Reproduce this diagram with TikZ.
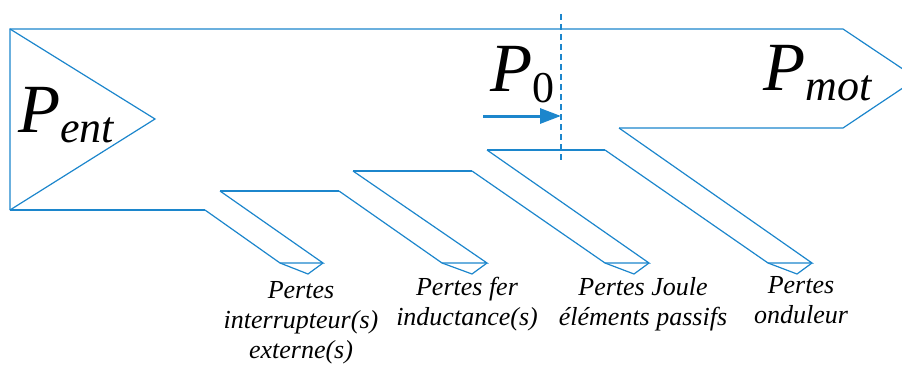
\documentclass[tikz,border=0pt]{standalone}
\usepackage{fontspec}
\setmainfont{Liberation Serif}
\usetikzlibrary{positioning,arrows.meta}
\definecolor{flowblue}{RGB}{28,134,204}

\begin{document}
\begin{tikzpicture}[x=1pt, y=1pt,
    flow/.style={draw=flowblue, line width=1.2pt},
    power/.style={inner sep=0pt, anchor=base west, font=\fontsize{69}{69}\selectfont\itshape},
    loss/.style={inner sep=0pt, anchor=base, align=center, font=\fontsize{26}{30}\selectfont\itshape}]
    \useasboundingbox (0,0) rectangle (902,365);
    \clip (0,0) rectangle (902,365);

    % main flow
    \draw[flow] (10,155) -- (10,336) -- (843,336) -- (917,286.5) -- (843,237) -- (619,237);
    \draw[flow] (10,336) -- (155,246) -- (10,155);
    \draw[flow] (10,155) -- (205,155);
    \draw[flow] (220,174) -- (339,174);
    \draw[flow] (353,194) -- (472,194);
    \draw[flow] (487,215) -- (605,215);

    % loss branches
    \draw[flow] (205,155) -- (280,102) -- (323,102) -- (220,174);
    \draw[flow] (280,102) -- (308,91) -- (323,102);
    \draw[flow] (339,174) -- (442,102) -- (487,102) -- (353,194);
    \draw[flow] (442,102) -- (472,91) -- (487,102);
    \draw[flow] (472,194) -- (605,102) -- (649,102) -- (487,215);
    \draw[flow] (605,102) -- (634,91) -- (649,102);
    \draw[flow] (605,215) -- (768,102) -- (812,102) -- (619,237);
    \draw[flow] (768,102) -- (797,91) -- (812,102);

    % P0 cut
    \coordinate (cuttop) at (561,351);
    \coordinate (cutbot) at (561,205);
    \coordinate (p0start) at (483,249);
    \draw[flowblue, line width=1.2pt, dash pattern=on 6pt off 4pt] (cuttop) -- (cutbot);
    \draw[flowblue, line width=3pt, -{Triangle[length=21pt,width=15pt]}] (p0start) -- (p0start -| cuttop);

    \node[power] (pent) at (18,233) {P\raisebox{-10pt}{\fontsize{44}{44}\selectfont ent}};
    \node[power] (pzero) at (490,273) {P\raisebox{-10pt}{\fontsize{44}{44}\selectfont\upshape 0}};
    \node[power] (pmot) at (763,275) {P\raisebox{-10pt}{\fontsize{44}{44}\selectfont mot}};

    % last line on the base
    \node[loss] (pinter) at (301,7) {Pertes\\interrupteur(s)\\externe(s)};
    \node[loss] (pfer) at (467,40) {Pertes fer\\inductance(s)};
    \node[loss] (pjoule) at (643,40) {Pertes Joule\\éléments passifs};
    \node[loss] (pond) at (801,42) {Pertes\\onduleur};
\end{tikzpicture}
\end{document}
